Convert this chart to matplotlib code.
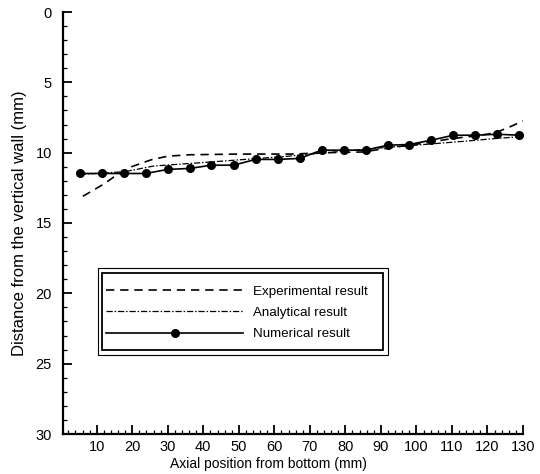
"axial position vs distance from wall, three results"
import matplotlib
matplotlib.use("Agg")
from matplotlib import pyplot as plt
from matplotlib.patches import Rectangle
from matplotlib.ticker import MultipleLocator

plt.rcParams['font.family'] = ['Liberation Sans', 'DejaVu Sans']

# experimental result (dashed)
exp_x = [6.1, 12.2, 15.5, 19.8, 25.4, 30.0, 36.0, 50.0, 65.0, 75.0, 85.0, 90.0,
         100.0, 110.0, 117.0, 122.0, 126.0, 130.0]
exp_y = [13.1, 12.2, 11.6, 11.0, 10.5, 10.25, 10.15, 10.1, 10.1, 10.0, 9.95, 9.75,
         9.4, 9.0, 8.8, 8.6, 8.2, 7.75]

# analytical result (dash-dot)
ana_x = [5.2, 18.0, 26.0, 40.0, 64.0, 88.0, 113.0, 122.0, 130.0]
ana_y = [11.55, 11.35, 10.95, 10.7, 10.25, 9.7, 9.2, 9.0, 8.85]

# numerical result (solid + dots)
num_x = [5.2, 11.4, 17.6, 23.8, 30.0, 36.2, 42.3, 48.5, 54.7, 60.9, 67.1,
         73.3, 79.5, 85.7, 91.9, 98.0, 104.2, 110.4, 116.6, 122.8, 129.0]
num_y = [11.48, 11.48, 11.48, 11.48, 11.19, 11.12, 10.89, 10.89, 10.48, 10.48, 10.41,
         9.82, 9.82, 9.82, 9.47, 9.42, 9.11, 8.76, 8.76, 8.69, 8.76]

labels = ["Experimental result", "Analytical result", "Numerical result"]

fig = plt.figure(figsize=(5.4, 4.74), dpi=100)
ax = fig.add_axes([63/540, 40/474, 460/540, 422/474])

ax.plot(exp_x, exp_y, color="black", lw=1.2, linestyle=(0, (5, 3.5)), label=labels[0])
ax.plot(ana_x, ana_y, color="black", lw=0.9, linestyle=(0, (5, 1.5, 1.2, 1.5)), label=labels[1])
ax.plot(num_x, num_y, color="black", lw=1.2, marker="o", ms=5.5, label=labels[2])

ax.set_xlim(0.5, 130)
ax.set_ylim(30, 0)
ax.xaxis.set_major_locator(MultipleLocator(10))
ax.xaxis.set_minor_locator(MultipleLocator(2))
ax.yaxis.set_major_locator(MultipleLocator(5))
ax.yaxis.set_minor_locator(MultipleLocator(1))
ax.set_xticks(range(10, 131, 10))

for s in ["top", "right"]:
    ax.spines[s].set_visible(False)
for s in ["left", "bottom"]:
    ax.spines[s].set_linewidth(1.6)

ax.tick_params(which="major", direction="in", length=6.5, width=1.3, labelsize=10.5)
ax.tick_params(which="minor", direction="in", length=3, width=0.9)
ax.tick_params(axis="y", which="major", pad=8)
ax.tick_params(axis="x", which="major", pad=4)

ax.set_xlabel("Axial position from bottom (mm)", fontsize=10, labelpad=1)
ax.xaxis.set_label_coords(0.446, -0.055)
ax.set_ylabel("Distance from the vertical wall (mm)", fontsize=12, labelpad=6)

# double framed legend box
ax.add_patch(Rectangle((0.0763, 0.1872), 0.6302, 0.2062, transform=ax.transAxes,
                       fill=False, lw=0.8, ec="black"))
ax.add_patch(Rectangle((0.084, 0.199), 0.611, 0.1825, transform=ax.transAxes,
                       fill=False, lw=1.3, ec="black"))
ax.legend(loc="upper left", bbox_to_anchor=(0.085, 0.362), frameon=False,
          fontsize=9.6, handlelength=10.3, handletextpad=0.75, labelspacing=0.68,
          borderaxespad=0, borderpad=0.3)

fig.savefig("out.png", dpi=100)
